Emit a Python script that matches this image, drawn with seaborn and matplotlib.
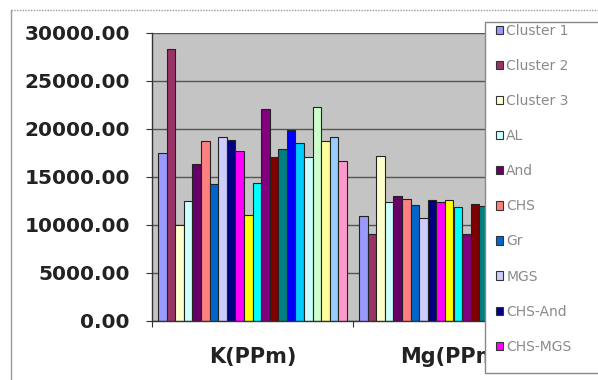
import matplotlib
matplotlib.use('Agg')
import matplotlib.pyplot as plt
import numpy as np
import pandas as pd
import seaborn as sns
from matplotlib.lines import Line2D
from matplotlib.patches import Rectangle
from matplotlib.ticker import FuncFormatter, FixedLocator

groups = ['K(PPm)', 'Mg(PPm)']
series = ['Cluster 1', 'Cluster 2', 'Cluster 3', 'AL', 'And', 'CHS', 'Gr', 'MGS',
          'CHS-And', 'CHS-MGS', 'S11', 'S12', 'S13', 'S14', 'S15', 'S16',
          'S17', 'S18', 'S19', 'S20', 'S21', 'S22']
k_values = [17500, 28300, 10000, 12500, 16350, 18750, 14270, 19170, 18850, 17700, 11040,
            14380, 22080, 17080, 17900, 19900, 18540, 17080, 22290, 18750, 19170, 16670]
mg_values = [10940, 9060, 17200, 12400, 13000, 12700, 12100, 10700, 12600, 12400, 12600,
             11900, 9060, 12200, 12000, 11800, 12300, 11500, 12700, 12100, 11900, 10800]
colors = ['#9999FF', '#993366', '#FFFFCC', '#CCFFFF', '#660066', '#FF8080', '#0066CC',
          '#CCCCFF', '#000080', '#FF00FF', '#FFFF00', '#00FFFF', '#800080', '#800000',
          '#008080', '#0000FF', '#00CCFF', '#CCFFFF', '#CCFFCC', '#FFFF99', '#99CCFF',
          '#FF99CC']

df = pd.DataFrame({
    'group': [groups[0]] * len(series) + [groups[1]] * len(series),
    'series': series + series,
    'value': k_values + mg_values,
})

sns.set_style('white')
plt.rcParams['font.family'] = ['DejaVu Sans']

fig = plt.figure(figsize=(5.98, 3.80), dpi=100)
ax = fig.add_axes([152 / 598, 1 - 321 / 380, 402 / 598, 288 / 380])
ax.set_facecolor('#c4c4c4')

sns.barplot(data=df, x='group', y='value', hue='series', order=groups, hue_order=series,
            palette=colors, saturation=1, width=0.94, edgecolor='#222222', linewidth=0.8,
            ax=ax, legend=False)

ax.set_ylim(0, 30000)
ax.set_xlim(-0.5, 1.5)
ax.set_yticks(np.arange(0, 30001, 5000))
ax.yaxis.set_major_formatter(FuncFormatter(lambda v, p: f'{v:.2f}'))
ax.grid(axis='y', color='#555555', linewidth=1.0)
ax.set_axisbelow(True)
ax.set(xlabel=None, ylabel=None)

for lab in ax.get_yticklabels():
    lab.set_fontweight('bold')
    lab.set_fontsize(14.5)
    lab.set_color('#222222')
for lab in ax.get_xticklabels():
    lab.set_fontweight('bold')
    lab.set_fontsize(15)
    lab.set_color('#222222')

ax.tick_params(axis='y', which='major', left=True, length=4.5, width=0.8, pad=11.5,
               color='#333333')
ax.tick_params(axis='x', which='major', bottom=False, length=0, pad=19)
ax.xaxis.set_minor_locator(FixedLocator([-0.5, 0.5, 1.5]))
ax.tick_params(axis='x', which='minor', bottom=True, length=4, width=0.8, color='#333333')

for side in ['top', 'right']:
    ax.spines[side].set_visible(False)
for side in ['left', 'bottom']:
    ax.spines[side].set_color('#333333')
    ax.spines[side].set_linewidth(1.0)

# outer chart border
fig.add_artist(Line2D([11 / 598, 1], [1 - 10 / 380, 1 - 10 / 380], transform=fig.transFigure,
                      color='#9a9a9a', linewidth=1.0, linestyle=(0, (1, 1))))
fig.add_artist(Line2D([11 / 598, 11 / 598], [0, 1 - 10 / 380], transform=fig.transFigure,
                      color='#9a9a9a', linewidth=1.0))

# legend box (cropped at the right edge like the original)
fig.add_artist(Rectangle((485 / 598, 1 - 373 / 380), 0.5, 351 / 380, transform=fig.transFigure,
                         facecolor='white', edgecolor='#888888', linewidth=1.0, zorder=3))
handles = [Rectangle((0, 0), 1, 1, facecolor=c, edgecolor='#333333', linewidth=0.8)
           for c in colors[:10]]
leg = fig.legend(handles, series[:10], loc='upper left',
                 bbox_to_anchor=(486 / 598, 1 - 14 / 380), frameon=False,
                 fontsize=10, labelcolor='#8a8a8a', handlelength=0.55, handleheight=0.55,
                 handletextpad=0.2, labelspacing=1.52, borderpad=0.2)
leg.set_zorder(5)

plt.savefig('out.png', dpi=100)
